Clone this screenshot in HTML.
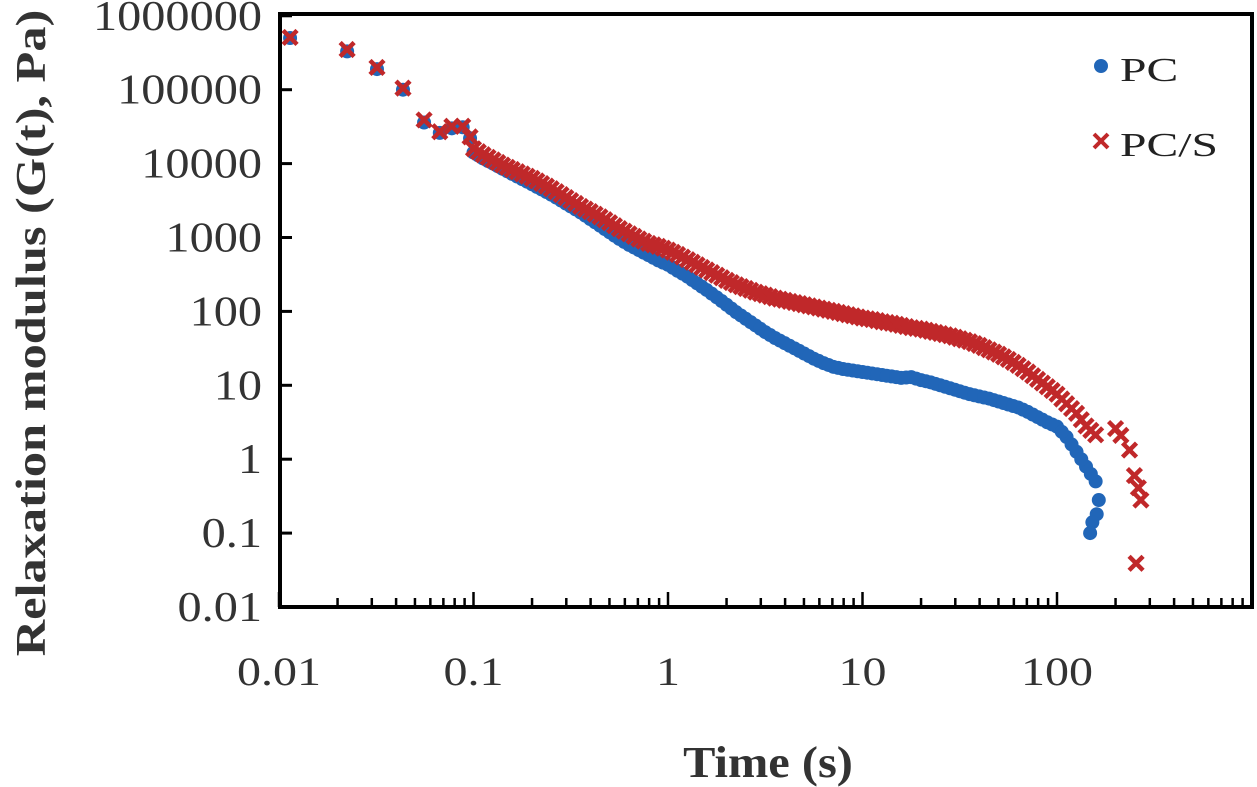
<!DOCTYPE html>
<html><head><meta charset="utf-8"><style>
html,body{margin:0;padding:0;background:#fff;}
svg{display:block;font-family:"Liberation Serif",serif;}
</style></head><body>
<svg id="chart" width="1257" height="787" viewBox="0 0 1257 787" xmlns="http://www.w3.org/2000/svg">
<g id="marks"></g>
<g id="axes"></g>
<text transform="translate(45,333) rotate(-90) scale(1.2,1)" text-anchor="middle" font-size="42" font-weight="bold" fill="#333">Relaxation modulus (G(t), Pa)</text>
<text transform="translate(768,777) scale(1.1,1)" text-anchor="middle" font-size="44" font-weight="bold" fill="#333">Time (s)</text>
<g>
<circle cx="1101" cy="66" r="7" fill="#2166b8"/>
<text transform="translate(1120,81) scale(1.4,1)" font-size="34" fill="#222">PC</text>
<g stroke="#c0282a" stroke-width="4"><line x1="1094" y1="134" x2="1108" y2="148"/><line x1="1108" y1="134" x2="1094" y2="148"/></g>
<text transform="translate(1120,156) scale(1.4,1)" font-size="34" fill="#222">PC/S</text>
</g>
</svg>
<script>
const timeEarly = [0.0114,0.0224,0.0319,0.0434,0.0557,0.0671,0.0774,0.088,0.096];
const pcsEarlyG = [510000,350000,200000,105000,39000,27000,32000,32000,23000];
const pcEarlyG = [500000,330000,190000,100000,36000,26000,30000,31000,22000];
const timeGrid = [0.1,0.112,0.126,0.141,0.158,0.178,0.2,0.224,0.251,0.282,0.316,0.355,0.398,0.447,0.501,0.562,0.631,0.708,0.794,0.891,1,1.12,1.26,1.41,1.58,1.78,2,2.24,2.51,2.82,3.16,3.55,3.98,4.47,5.01,5.62,6.31,7.08,7.94,8.91,10,11.2,12.6,14.1,15.8,17.8,20,22.4,25.1,28.2,31.6,35.5,39.8,44.7,50.1,56.2,63.1,70.8,79.4,89.1,100,112,126,141,158];
const pcsLogG = [4.20,4.12,4.05,3.98,3.92,3.86,3.80,3.73,3.66,3.58,3.50,3.42,3.35,3.28,3.20,3.12,3.05,2.98,2.92,2.88,2.83,2.77,2.70,2.63,2.56,2.49,2.42,2.36,2.31,2.26,2.22,2.18,2.15,2.12,2.09,2.06,2.03,2.00,1.97,1.94,1.91,1.89,1.86,1.84,1.81,1.78,1.76,1.73,1.70,1.67,1.63,1.59,1.54,1.48,1.42,1.35,1.27,1.18,1.08,0.98,0.88,0.75,0.62,0.45,0.33];
const pcLogG = [4.15,4.07,4.00,3.93,3.86,3.79,3.72,3.65,3.58,3.50,3.42,3.34,3.25,3.16,3.07,2.98,2.90,2.83,2.76,2.69,2.63,2.55,2.47,2.38,2.29,2.19,2.09,1.99,1.90,1.81,1.72,1.64,1.57,1.50,1.43,1.36,1.30,1.25,1.22,1.20,1.18,1.16,1.14,1.12,1.10,1.11,1.07,1.04,1.00,0.96,0.92,0.88,0.85,0.82,0.78,0.74,0.70,0.64,0.57,0.50,0.44,0.30,0.10,-0.10,-0.30];
const pcsTailT = [200,213,236,250,262,270,255];
const pcsTailG = [2.6,2.1,1.33,0.6,0.41,0.28,0.039];
const pcTailT = [164,160,152,148];
const pcTailG = [0.28,0.18,0.14,0.1];
const yTicks = [0.01,0.1,1,10,100,1000,10000,100000,1000000];
const yTickLabels = ["0.01","0.1","1","10","100","1000","10000","100000","1000000"];
const xTicks = [0.01,0.1,1,10,100];
const xTickLabels = ["0.01","0.1","1","10","100"];

const NS="http://www.w3.org/2000/svg";
const L=280,R=1252,T=16,B=607;
function xs(t){return 279+(Math.log10(t)+2)*194.5;}
function ys(g){return B-(Math.log10(g)+2)*73.9;}
const marks=document.getElementById('marks'), axes=document.getElementById('axes');
function mk(tag,attrs,parent){const e=document.createElementNS(NS,tag);for(const k in attrs)e.setAttribute(k,attrs[k]);parent.appendChild(e);return e;}
function dot(t,g){const c=mk('circle',{cx:xs(t),cy:ys(g),r:7,fill:'#2166b8'},marks);

}
function cross(t,g){const x=xs(t),y=ys(g),s=7;const p=mk('path',{d:`M${x-s},${y-s}L${x+s},${y+s}M${x+s},${y-s}L${x-s},${y+s}`,stroke:'#c0282a','stroke-width':4.5,fill:'none'},marks);

}
const pcPts=[],pcsPts=[];
timeEarly.forEach((t,i)=>{pcPts.push([t,pcEarlyG[i]]);pcsPts.push([t,pcsEarlyG[i]]);});
timeGrid.forEach((t,i)=>{pcPts.push([t,Math.pow(10,pcLogG[i])]);pcsPts.push([t,Math.pow(10,pcsLogG[i])]);});
pcTailT.forEach((t,i)=>pcPts.push([t,pcTailG[i]]));
pcsTailT.forEach((t,i)=>pcsPts.push([t,pcsTailG[i]]));
pcPts.forEach(p=>dot(p[0],p[1]));
for(let i=0;i<timeGrid.length-1;i++){const t=Math.sqrt(timeGrid[i]*timeGrid[i+1]);dot(t,Math.pow(10,(pcLogG[i]+pcLogG[i+1])/2));}
pcsPts.forEach(p=>cross(p[0],p[1]));
for(let i=0;i<timeGrid.length-1;i++){const t=Math.sqrt(timeGrid[i]*timeGrid[i+1]);cross(t,Math.pow(10,(pcsLogG[i]+pcsLogG[i+1])/2));}
const f=mk('rect',{x:L,y:T-2,width:R-L,height:B-T+2,fill:'none',stroke:'#000','stroke-width':4},axes);


yTicks.forEach((v,i)=>{const y=ys(v);
mk('line',{x1:L,x2:L+12,y1:y,y2:y,stroke:'#000','stroke-width':3},axes);
const tx=mk('text',{transform:`translate(262,${y+14}) scale(1.15,1)`,'text-anchor':'end','font-size':42,fill:'#333'},axes);tx.textContent=yTickLabels[i];

});
for(let d=-2;d<3;d++){for(let m=1;m<10;m++){const t=m*Math.pow(10,d);const x=xs(t);if(x>R-2)continue;
mk('line',{x1:x,x2:x,y1:B,y2:B-(m===1?15:9),stroke:'#000','stroke-width':2.5},axes);}}
xTicks.forEach((v,i)=>{const tx=mk('text',{transform:`translate(${xs(v)},685) scale(1.2,1)`,'text-anchor':'middle','font-size':40,fill:'#333'},axes);tx.textContent=xTickLabels[i];

});
</script>
</body></html>
